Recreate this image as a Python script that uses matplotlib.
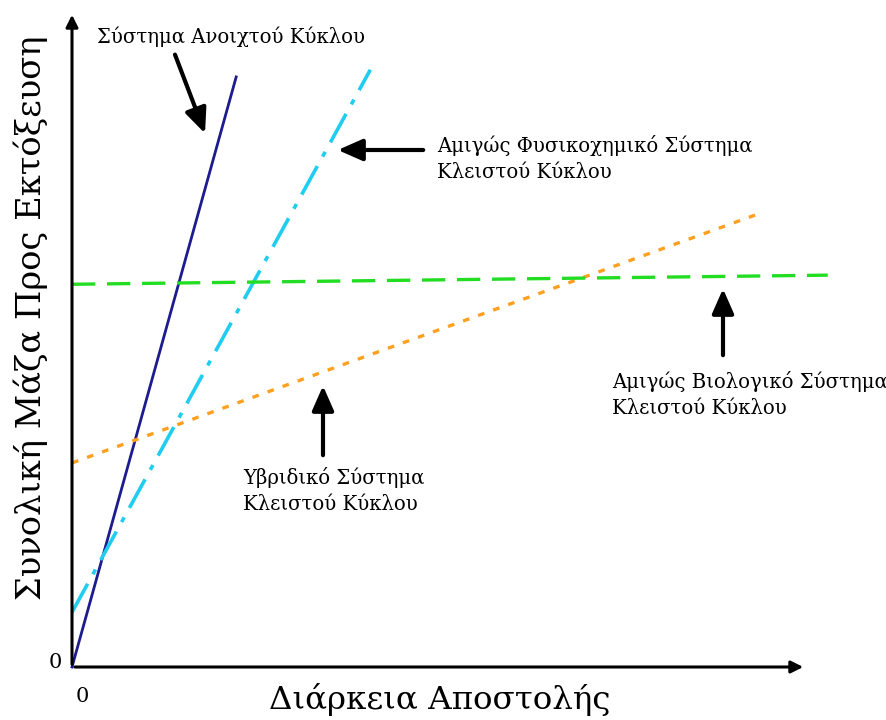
import matplotlib
matplotlib.use("Agg")
import matplotlib.pyplot as plt

# Data (arbitrary units, axes 0..100)
open_x = [0, 22.4]
open_y = [0, 90.5]
phys_x = [0, 40.7]
phys_y = [8.4, 91.6]
hybrid_x = [0, 93.9]
hybrid_y = [31.3, 69.6]
bio_x = [0, 103.1]
bio_y = [58.7, 60.1]

SX, SY = 7.33, 6.52  # pixels per data unit
def px(x): return (x - 72) / SX
def py(y): return (667 - y) / SY

fig = plt.figure(figsize=(8.87, 7.2), dpi=100)
ax = fig.add_axes([0, 0, 1, 1])
ax.set_xlim(px(0), px(887))
ax.set_ylim(py(720), py(0))
ax.axis("off")

serif = ["DejaVu Serif"]

ax.plot(open_x, open_y, color="#1c1c8e", lw=2.0)
ax.plot(phys_x, phys_y, color="#1fcdf0", lw=2.6, dashes=[9, 3, 1.5, 3])
ax.plot(hybrid_x, hybrid_y, color="#ffa020", lw=2.4, dashes=[2, 2.8])
ax.plot(bio_x, bio_y, color="#22dd22", lw=2.4, dashes=[7, 3.5])

# Axes arrows
arr = dict(arrowstyle="-|>", color="black", lw=2.2, mutation_scale=18)
ax.annotate("", xy=(px(806), 0), xytext=(0, 0), arrowprops=arr)
ax.annotate("", xy=(0, py(12)), xytext=(0, 0), arrowprops=arr)

# Pointer arrows
parr = dict(arrowstyle="-|>,head_length=0.5,head_width=0.22", color="black", lw=3.0, mutation_scale=30)
ax.annotate("", xy=(px(206), py(136)), xytext=(px(174), py(52)), arrowprops=parr)
ax.annotate("", xy=(px(335), py(150)), xytext=(px(426), py(150)), arrowprops=parr)
ax.annotate("", xy=(px(323), py(383)), xytext=(px(323), py(458)), arrowprops=parr)
ax.annotate("", xy=(px(723), py(286)), xytext=(px(723), py(358)), arrowprops=parr)

fs = 14.1
ax.text(px(97), py(37), "Σύστημα Ανοιχτού Κύκλου", fontsize=fs, family=serif, va="center", ha="left")
ax.text(px(437), py(145), "Αμιγώς Φυσικοχημικό Σύστημα", fontsize=fs, family=serif, va="center", ha="left")
ax.text(px(437), py(172), "Κλειστού Κύκλου", fontsize=fs, family=serif, va="center", ha="left")
ax.text(px(243), py(478), "Υβριδικό Σύστημα", fontsize=fs, family=serif, va="center", ha="left")
ax.text(px(243), py(504), "Κλειστού Κύκλου", fontsize=fs, family=serif, va="center", ha="left")
ax.text(px(612), py(382), "Αμιγώς Βιολογικό Σύστημα", fontsize=fs, family=serif, va="center", ha="left")
ax.text(px(612), py(408), "Κλειστού Κύκλου", fontsize=fs, family=serif, va="center", ha="left")

ax.text(px(31), py(318), "Συνολική Μάζα Προς Εκτόξευση", fontsize=24.3, family=serif,
        rotation=90, va="center", ha="center")
ax.text(px(440), py(700), "Διάρκεια Αποστολής", fontsize=23.4, family=serif, va="center", ha="center")
ax.text(px(62), py(663), "0", fontsize=15, family=serif, va="center", ha="right")
ax.text(px(82), py(697), "0", fontsize=15, family=serif, va="center", ha="center")

fig.savefig("out.png", dpi=100)
